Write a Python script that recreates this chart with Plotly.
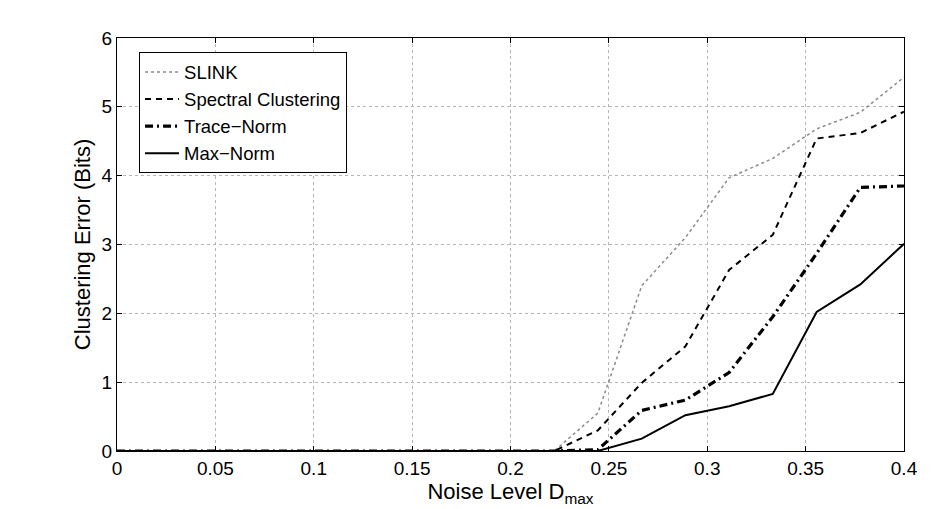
import plotly.graph_objects as go

noise = [0.0, 0.0222, 0.0444, 0.0667, 0.0889, 0.1111, 0.1333, 0.1556, 0.1778, 0.2,
         0.2222, 0.2444, 0.2667, 0.2889, 0.3111, 0.3333, 0.3556, 0.3778, 0.4]
slink = [0, 0, 0, 0, 0, 0, 0, 0, 0, 0, 0, 0.55, 2.4, 3.1, 3.97, 4.25, 4.68, 4.92, 5.43]
spectral = [0, 0, 0, 0, 0, 0, 0, 0, 0, 0, 0, 0.3, 0.99, 1.52, 2.63, 3.14, 4.54, 4.62, 4.93]
trace_norm = [0, 0, 0, 0, 0, 0, 0, 0, 0, 0, 0, 0.02, 0.59, 0.74, 1.14, 1.95, 2.87, 3.83, 3.85]
max_norm = [0, 0, 0, 0, 0, 0, 0, 0, 0, 0, 0, 0, 0.18, 0.52, 0.65, 0.83, 2.02, 2.42, 3.01]

x_ticks = [0, 0.05, 0.1, 0.15, 0.2, 0.25, 0.3, 0.35, 0.4]
x_labels = ["0", "0.05", "0.1", "0.15", "0.2", "0.25", "0.3", "0.35", "0.4"]
y_ticks = [0, 1, 2, 3, 4, 5, 6]

fig = go.Figure()
fig.add_trace(go.Scatter(x=noise, y=slink, mode="lines", name="SLINK",
                         line=dict(color="#8a8a8a", width=1.5, dash="dot")))
fig.add_trace(go.Scatter(x=noise, y=spectral, mode="lines", name="Spectral Clustering",
                         line=dict(color="black", width=2, dash="6px,5px")))
fig.add_trace(go.Scatter(x=noise, y=trace_norm, mode="lines", name="Trace\u2212Norm",
                         line=dict(color="black", width=3.2, dash="8px,4px,2px,4px")))
fig.add_trace(go.Scatter(x=noise, y=max_norm, mode="lines", name="Max\u2212Norm",
                         line=dict(color="black", width=2)))

font = "Liberation Sans, Arial, Helvetica, sans-serif"
axis_common = dict(showline=True, linecolor="black", linewidth=1.2, mirror="ticks",
                   ticks="inside", ticklen=5, tickcolor="black", tickwidth=1,
                   showgrid=True, gridcolor="#b5b5b5", griddash="dot", gridwidth=1,
                   zeroline=False, tickfont=dict(size=19, color="black", family=font))

fig.update_layout(
    width=944, height=509,
    margin=dict(l=117, r=40, t=38, b=53),
    paper_bgcolor="white", plot_bgcolor="white",
    font=dict(family=font, color="black"),
    xaxis=dict(range=[0, 0.4], tickvals=x_ticks, ticktext=x_labels,
               title=dict(text="Noise Level D<sub>max</sub>", font=dict(size=22), standoff=3),
               **axis_common),
    yaxis=dict(range=[0, 6], tickvals=y_ticks,
               title=dict(text="Clustering Error (Bits)", font=dict(size=22), standoff=4),
               **axis_common),
    legend=dict(x=0.028, y=0.965, xanchor="left", yanchor="top",
                bgcolor="white", bordercolor="black", borderwidth=1,
                font=dict(size=18.5, color="black", family=font),
                itemwidth=34, tracegroupgap=0),
    showlegend=True,
)

fig.write_html("out.html")
